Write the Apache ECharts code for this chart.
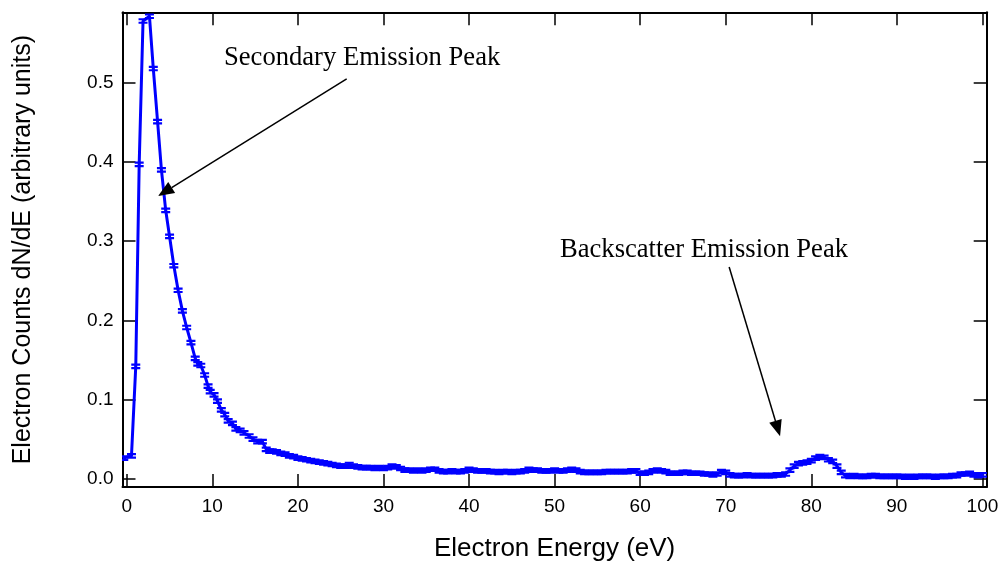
<!DOCTYPE html>
<html><head><meta charset="utf-8">
<script src="https://cdn.jsdelivr.net/npm/echarts@6/dist/echarts.min.js"></script>
<style>html,body{margin:0;padding:0;background:#fff}#c{width:1002px;height:567px}</style>
</head><body><div id="c"></div>
<script>
// Electron energy (eV)
const energy = [-0.35,0.55,1.05,1.45,1.9,2.65,3.1,3.6,4.05,4.55,5.0,5.5,6.0,6.5,7.0,7.5,8.0,8.3,8.65,9.1,9.5,9.75,10.2,10.6,11.05,11.45,11.85,12.35,12.75,13.25,13.7,14.3,14.75,15.3,15.85,16.3,16.7,
17.0,17.5,18.0,18.5,19.0,19.5,20.0,20.5,21.0,21.5,22.0,22.5,23.0,23.5,24.0,24.5,25.0,25.5,26.0,26.5,27.0,27.5,28.0,28.5,29.0,29.5,
30.0,30.5,31.0,31.5,32.0,32.5,33.0,33.5,34.0,34.5,35.0,35.5,36.0,36.5,37.0,37.5,38.0,38.5,39.0,39.5,
40.0,40.5,41.0,41.5,42.0,42.5,43.0,43.5,44.0,44.5,45.0,45.5,46.0,46.5,47.0,47.5,48.0,48.5,49.0,49.5,
50.0,50.5,51.0,51.5,52.0,52.5,53.0,53.5,54.0,54.5,55.0,55.5,56.0,56.5,57.0,57.5,58.0,58.5,59.0,59.5,
60.0,60.5,61.0,61.5,62.0,62.5,63.0,63.5,64.0,64.5,65.0,65.5,66.0,66.5,67.0,67.5,68.0,68.5,69.0,69.5,
70.0,70.5,71.0,71.5,72.0,72.5,73.0,73.5,74.0,74.5,75.0,75.5,76.0,76.5,77.0,77.5,78.0,78.5,79.0,79.5,
80.0,80.5,81.0,81.5,82.0,82.5,83.0,83.5,84.0,84.5,85.0,85.5,86.0,86.5,87.0,87.5,88.0,88.5,89.0,89.5,
90.0,90.5,91.0,91.5,92.0,92.5,93.0,93.5,94.0,94.5,95.0,95.5,96.0,96.5,97.0,97.5,98.0,98.5,99.0,99.5,100.0];
// Electron counts dN/dE (arbitrary units)
const counts = [0.026,0.029,0.142,0.397,0.578,0.584,0.518,0.451,0.390,0.339,0.306,0.269,0.238,0.212,0.191,0.172,0.152,0.145,0.143,0.131,0.117,0.110,0.106,0.098,0.087,0.081,0.073,0.070,0.063,0.061,0.058,0.054,0.050,0.047,0.047,0.037,0.035,
0.035,0.034,0.032,0.031,0.029,0.028,0.026,0.025,0.024,0.023,0.022,0.021,0.020,0.019,0.018,0.017,0.016,0.016,0.018,0.016,0.015,0.014,0.014,0.014,0.013,0.014,
0.013,0.014,0.016,0.015,0.013,0.011,0.011,0.010,0.011,0.010,0.011,0.012,0.012,0.010,0.009,0.009,0.010,0.009,0.009,0.010,
0.012,0.011,0.010,0.010,0.010,0.009,0.009,0.008,0.009,0.009,0.008,0.009,0.009,0.010,0.012,0.011,0.011,0.010,0.010,0.010,
0.011,0.010,0.010,0.011,0.012,0.011,0.009,0.008,0.008,0.008,0.008,0.008,0.009,0.009,0.009,0.009,0.009,0.009,0.010,0.010,
0.007,0.007,0.008,0.010,0.011,0.010,0.009,0.007,0.007,0.007,0.008,0.008,0.007,0.007,0.007,0.006,0.006,0.005,0.006,0.009,
0.008,0.005,0.004,0.004,0.004,0.005,0.004,0.004,0.004,0.004,0.004,0.004,0.005,0.005,0.006,0.011,0.016,0.019,0.020,0.021,
0.023,0.026,0.028,0.027,0.024,0.022,0.016,0.008,0.004,0.003,0.004,0.003,0.003,0.003,0.004,0.004,0.003,0.003,0.003,0.003,
0.003,0.003,0.002,0.003,0.002,0.003,0.003,0.003,0.003,0.002,0.003,0.003,0.003,0.004,0.004,0.006,0.006,0.007,0.005,0.004,0.005];
const errHalf = 0.0022;
const xTicks = [0,10,20,30,40,50,60,70,80,90,100];
const yTicks = [0,0.1,0.2,0.3,0.4,0.5];
const yTickLabels = ['0.0','0.1','0.2','0.3','0.4','0.5'];
const annotations = [
  {text:'Secondary Emission Peak', from:[25.7,0.505], to:[3.66,0.357]},
  {text:'Backscatter Emission Peak', from:[70.4,0.2675], to:[76.35,0.0537]}
];

const BLUE = '#0000ff';
const X_MIN = -0.5, X_MAX = 100.5, Y_MIN = -0.0104, Y_MAX = 0.589;
const chart = echarts.init(document.getElementById('c'));
const pts = energy.map((e, i) => [e, counts[i]]);

function xAxisDef(pos, showLabel) {
  return {
    type:'value', min:X_MIN, max:X_MAX, position:pos,
    axisLine:{show:true, onZero:false, lineStyle:{color:'#000', width:2}},
    axisTick:{show:true, inside:true, length:13, customValues:xTicks, lineStyle:{color:'#000', width:1.5}},
    axisLabel:{show:showLabel, customValues:xTicks, color:'#000', fontFamily:'Liberation Sans', fontSize:19, margin:10},
    splitLine:{show:false},
    name: showLabel ? 'Electron Energy (eV)' : '',
    nameLocation:'middle', nameGap:49,
    nameTextStyle:{color:'#000', fontFamily:'Liberation Sans', fontSize:26}
  };
}
function yAxisDef(pos, showLabel) {
  return {
    type:'value', min:Y_MIN, max:Y_MAX, position:pos,
    axisLine:{show:true, onZero:false, lineStyle:{color:'#000', width:2}},
    axisTick:{show:true, inside:true, length:13, customValues:yTicks, lineStyle:{color:'#000', width:1.5}},
    axisLabel:{show:showLabel, customValues:yTicks, color:'#000', fontFamily:'Liberation Sans', fontSize:19, margin:9,
      formatter: v => { const i = yTicks.findIndex(t => Math.abs(t - v) < 1e-9); return i >= 0 ? yTickLabels[i] : ''; }},
    splitLine:{show:false},
    name: showLabel ? 'Electron Counts dN/dE (arbitrary units)' : '',
    nameLocation:'middle', nameGap:87,
    nameTextStyle:{color:'#000', fontFamily:'Liberation Sans', fontSize:25}
  };
}

chart.setOption({
  animation:false,
  backgroundColor:'#fff',
  grid:{left:122.5, right:15.3, top:12.3, bottom:78},
  xAxis:[xAxisDef('bottom', true), xAxisDef('top', false)],
  yAxis:[yAxisDef('left', true), yAxisDef('right', false)],
  series:[
    {
      type:'line', data:pts, showSymbol:false, symbol:'none',
      lineStyle:{color:BLUE, width:3}, itemStyle:{color:BLUE}, z:3
    },
    {
      type:'custom', data:pts, clip:true, z:4,
      renderItem:(params, api) => {
        const x = api.value(0), y = api.value(1);
        const t = api.coord([x, y + errHalf]), b = api.coord([x, y - errHalf]);
        const hw = 4.5, st = {stroke:BLUE, lineWidth:2.2};
        return {type:'group', children:[
          {type:'line', shape:{x1:t[0], y1:t[1], x2:b[0], y2:b[1]}, style:st},
          {type:'line', shape:{x1:t[0]-hw, y1:t[1], x2:t[0]+hw, y2:t[1]}, style:st},
          {type:'line', shape:{x1:b[0]-hw, y1:b[1], x2:b[0]+hw, y2:b[1]}, style:st}
        ]};
      }
    }
  ]
});

// Annotation arrows and texts, placed through the chart's own scales
const graphics = [];
const HEAD_LEN = 16, HEAD_HALF = 6.5;
annotations.forEach(a => {
  const p0 = chart.convertToPixel({gridIndex:0}, a.from);
  const p1 = chart.convertToPixel({gridIndex:0}, a.to);
  const dx = p1[0] - p0[0], dy = p1[1] - p0[1];
  const L = Math.hypot(dx, dy), ux = dx / L, uy = dy / L;
  const bx = p1[0] - ux * HEAD_LEN, by = p1[1] - uy * HEAD_LEN;
  graphics.push({type:'line', shape:{x1:p0[0], y1:p0[1], x2:bx, y2:by}, style:{stroke:'#000', lineWidth:1.5}, z:10});
  graphics.push({type:'polygon', shape:{points:[[p1[0], p1[1]], [bx - uy * HEAD_HALF, by + ux * HEAD_HALF], [bx + uy * HEAD_HALF, by - ux * HEAD_HALF]]}, style:{fill:'#000'}, z:10});
});
graphics.push({type:'text', left:224, top:45, style:{text:annotations[0].text, font:'26.6px "Liberation Serif"', fill:'#000'}});
graphics.push({type:'text', left:560, top:237, style:{text:annotations[1].text, font:'26.6px "Liberation Serif"', fill:'#000'}});
chart.setOption({graphic:graphics});
</script>
</body></html>
